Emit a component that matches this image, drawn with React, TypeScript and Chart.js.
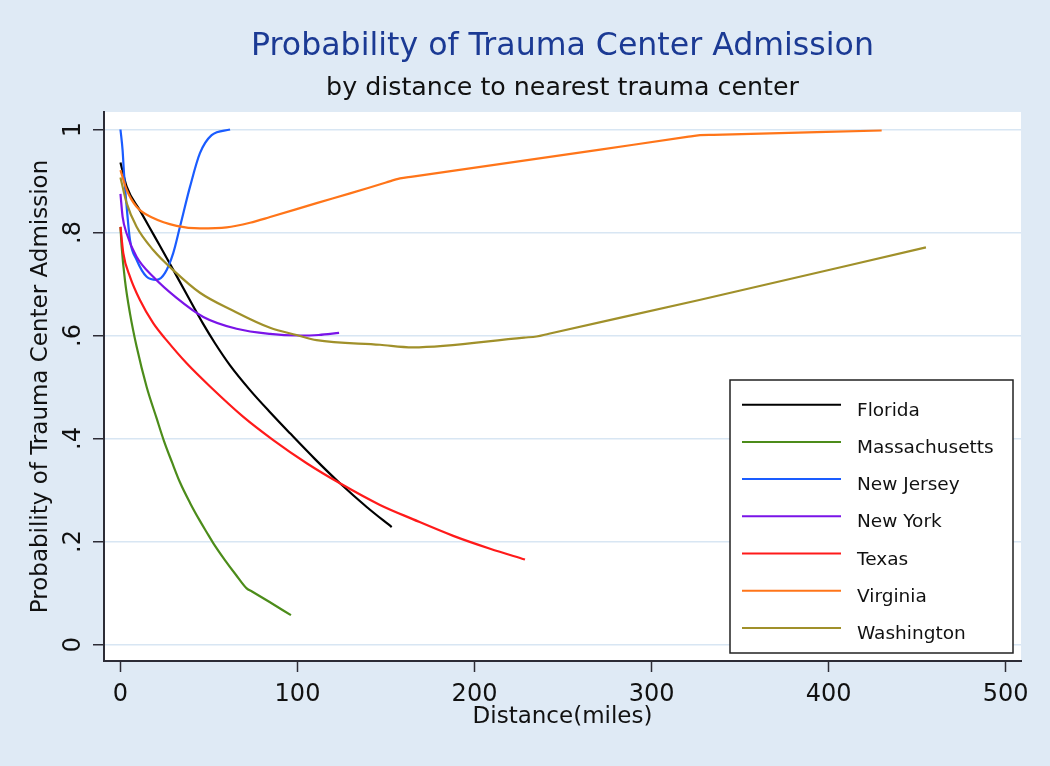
import React, { useEffect, useRef } from 'react';
import { Chart, registerables } from 'chart.js';

Chart.register(...registerables);

// ---------- text ----------
const titleText = 'Probability of Trauma Center Admission';
const subtitleText = 'by distance to nearest trauma center';
const xAxisTitle = 'Distance(miles)';
const yAxisTitle = 'Probability of Trauma Center Admission';

// ---------- ticks ----------
const xTickValues = [0, 100, 200, 300, 400, 500];
const xTickLabels = ['0', '100', '200', '300', '400', '500'];
const yTickValues = [0, 0.2, 0.4, 0.6, 0.8, 1];
const yTickLabels = ['0', '.2', '.4', '.6', '.8', '1'];

// ---------- series ----------
const stateNames = ['Florida', 'Massachusetts', 'New Jersey', 'New York', 'Texas', 'Virginia', 'Washington'];

const floridaMiles = [0, 3.5, 11, 19.5, 28, 37.4, 46.8, 53.4, 61.9, 73.2, 84.5, 95.8, 109.9, 124, 139.1, 153.2];
const floridaProb = [0.936, 0.889, 0.843, 0.791, 0.739, 0.68, 0.622, 0.585, 0.542, 0.494, 0.451, 0.41, 0.36, 0.313, 0.267, 0.228];

const massMiles = [0, 0.68, 2.54, 5.37, 9.15, 14.8, 20.45, 24.6, 29.1, 33.6, 39.3, 44.9, 48.7, 52.4, 59, 65.3, 71.3, 74.3, 84, 96.3];
const massProb = [0.811, 0.772, 0.707, 0.643, 0.578, 0.5, 0.439, 0.395, 0.354, 0.315, 0.275, 0.24, 0.218, 0.197, 0.164, 0.135, 0.109, 0.103, 0.083, 0.057];

const newJerseyMiles = [0, 1.2, 2, 3.5, 5.4, 9.1, 14.8, 20.4, 25.1, 29.8, 33.6, 39.3, 44.9, 51.5, 61.9];
const newJerseyProb = [1.0, 0.96, 0.915, 0.85, 0.785, 0.747, 0.714, 0.708, 0.721, 0.76, 0.811, 0.889, 0.954, 0.989, 1.0];

const newYorkMiles = [0, 1.2, 3.5, 9.1, 18.5, 31.7, 46.8, 65.6, 84.5, 100, 112, 123.5];
const newYorkProb = [0.875, 0.831, 0.798, 0.753, 0.714, 0.673, 0.636, 0.613, 0.603, 0.6, 0.601, 0.605];

const texasMiles = [0, 1.6, 5.4, 11, 18.5, 26, 37.4, 50.6, 69.4, 86.3, 105.2, 124, 146.6, 165.4, 188, 208.8, 228.5];
const texasProb = [0.811, 0.76, 0.714, 0.669, 0.624, 0.591, 0.546, 0.501, 0.442, 0.397, 0.352, 0.313, 0.271, 0.243, 0.211, 0.186, 0.165];

const virginiaMiles = [0, 3.5, 9.1, 18.5, 31.7, 44.9, 60, 73.2, 84.5, 110.8, 129.7, 150, 157.9, 165, 271, 320, 327.4, 335, 430];
const virginiaProb = [0.921, 0.883, 0.85, 0.828, 0.813, 0.808, 0.81, 0.819, 0.83, 0.857, 0.876, 0.897, 0.905, 0.9085, 0.961, 0.9855, 0.989, 0.9897, 0.998];

const washingtonMiles = [0, 3.5, 9.1, 18.5, 29.8, 44.9, 63.7, 84.5, 99.5, 110.8, 146.6, 165, 228, 235, 242, 327, 455];
const washingtonProb = [0.907, 0.857, 0.811, 0.766, 0.727, 0.683, 0.648, 0.615, 0.601, 0.591, 0.582, 0.577, 0.596, 0.598, 0.6035, 0.669, 0.771];

const seriesMiles = [floridaMiles, massMiles, newJerseyMiles, newYorkMiles, texasMiles, virginiaMiles, washingtonMiles];
const seriesProb = [floridaProb, massProb, newJerseyProb, newYorkProb, texasProb, virginiaProb, washingtonProb];
const seriesColors = ['#000000', '#4c8c1a', '#1a5cff', '#7a14e8', '#ff1a1a', '#ff7519', '#a0902a'];

// ---------- style ----------
const FONT = '"DejaVu Sans", sans-serif';
const BG = '#dfeaf5';
const GRID = '#d8e6f3';
const AXIS = '#2c2c36';
const TEXT = '#111111';
const TITLE_BLUE = '#1b3a94';

const backgroundPlugin = {
  id: 'stataBackground',
  beforeDraw(chart: any) {
    const { ctx, chartArea, width, height } = chart;
    ctx.save();
    ctx.fillStyle = BG;
    ctx.fillRect(0, 0, width, height);
    ctx.fillStyle = '#ffffff';
    ctx.fillRect(chartArea.left, chartArea.top, chartArea.right - chartArea.left, chartArea.bottom - chartArea.top);
    ctx.restore();
  },
};

const legendPlugin = {
  id: 'stataLegend',
  afterDatasetsDraw(chart: any) {
    const { ctx, chartArea } = chart;
    const w = 283;
    const h = 273;
    const right = chartArea.right - 8;
    const bottom = chartArea.bottom - 8;
    const left = right - w;
    const top = bottom - h;
    ctx.save();
    ctx.fillStyle = '#ffffff';
    ctx.fillRect(left, top, w, h);
    ctx.strokeStyle = '#222222';
    ctx.lineWidth = 1.5;
    ctx.strokeRect(left, top, w, h);
    chart.data.datasets.forEach((ds: any, i: number) => {
      const y = top + 24.7 + i * 37.2;
      ctx.strokeStyle = ds.borderColor;
      ctx.lineWidth = 2;
      ctx.beginPath();
      ctx.moveTo(left + 12, y);
      ctx.lineTo(left + 111, y);
      ctx.stroke();
      ctx.fillStyle = TEXT;
      ctx.font = '18.5px ' + FONT;
      ctx.textAlign = 'left';
      ctx.textBaseline = 'alphabetic';
      ctx.fillText(ds.label, left + 127, y + 11);
    });
    ctx.restore();
  },
};

export default function App() {
  const canvasRef = useRef<HTMLCanvasElement | null>(null);

  useEffect(() => {
    document.body.style.margin = '0';
    const canvas = canvasRef.current;
    if (!canvas) return;

    const datasets = stateNames.map((name, i) => ({
      label: name,
      data: seriesMiles[i].map((m, j) => ({ x: m, y: seriesProb[i][j] })),
      borderColor: seriesColors[i],
      backgroundColor: seriesColors[i],
      borderWidth: 2.2,
      pointRadius: 0,
      pointHoverRadius: 0,
      fill: false,
      cubicInterpolationMode: 'monotone' as const,
      order: stateNames.length - i,
    }));

    const chart = new Chart(canvas, {
      type: 'line',
      data: { datasets },
      plugins: [backgroundPlugin, legendPlugin],
      options: {
        responsive: false,
        animation: false,
        devicePixelRatio: 1,
        layout: { padding: { left: 0, right: 29, top: 0, bottom: 0 } },
        plugins: {
          legend: { display: false },
          tooltip: { enabled: false },
          title: {
            display: true,
            text: titleText,
            color: TITLE_BLUE,
            font: { family: FONT, size: 31.6, weight: 'normal' },
            padding: { top: 28.2, bottom: 0 },
            fullSize: false,
          },
          subtitle: {
            display: true,
            text: subtitleText,
            color: TEXT,
            font: { family: FONT, size: 25.3, weight: 'normal' },
            padding: { top: 7.6, bottom: 7.9 },
            fullSize: false,
          },
        },
        scales: {
          x: {
            type: 'linear',
            min: -9.3,
            max: 508.7,
            afterBuildTicks: (s: any) => {
              s.ticks = xTickValues.map((v) => ({ value: v }));
            },
            afterFit: (s: any) => {
              s.height = 105;
            },
            ticks: {
              autoSkip: false,
              maxRotation: 0,
              padding: 8,
              color: TEXT,
              font: { family: FONT, size: 24 },
              callback: (v: any) => xTickLabels[xTickValues.indexOf(v)],
            },
            grid: {
              drawOnChartArea: false,
              drawTicks: true,
              tickLength: 11,
              tickColor: AXIS,
              tickWidth: 1.5,
            },
            border: { color: AXIS, width: 2 },
            title: {
              display: true,
              text: xAxisTitle,
              color: TEXT,
              font: { family: FONT, size: 23 },
              padding: { top: 0, bottom: 35 },
            },
          },
          y: {
            type: 'linear',
            min: -0.032,
            max: 1.034,
            afterBuildTicks: (s: any) => {
              s.ticks = yTickValues.map((v) => ({ value: v }));
            },
            afterFit: (s: any) => {
              s.width = 104;
            },
            ticks: {
              autoSkip: false,
              minRotation: 90,
              maxRotation: 90,
              crossAlign: 'center',
              padding: 8,
              color: TEXT,
              font: { family: FONT, size: 24 },
              callback: (v: any) => yTickLabels[yTickValues.indexOf(v)],
            },
            grid: {
              color: GRID,
              lineWidth: 1.5,
              drawTicks: true,
              tickLength: 11,
              tickColor: AXIS,
              tickWidth: 1.5,
            },
            border: { color: AXIS, width: 2 },
            title: {
              display: true,
              text: yAxisTitle,
              color: TEXT,
              font: { family: FONT, size: 23 },
              padding: { top: 27, bottom: 0 },
            },
          },
        },
      },
    } as any);

    return () => {
      chart.destroy();
    };
  }, []);

  return <canvas ref={canvasRef} width={1050} height={766} style={{ display: 'block' }} />;
}
